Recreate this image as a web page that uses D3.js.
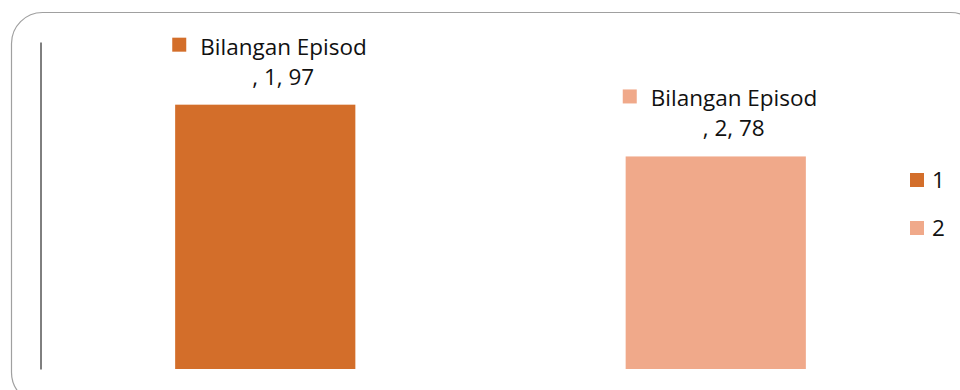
<!DOCTYPE html>
<html>
<head>
<meta charset="utf-8">
<script src="https://cdn.jsdelivr.net/npm/d3@7/dist/d3.min.js"></script>
<style>
  html, body { margin: 0; padding: 0; background: #fff; }
  svg { display: block; font-family: "Open Sans", "Liberation Sans", sans-serif; }
</style>
</head>
<body>
<svg id="chart" width="960" height="390"></svg>
<script>
// Episode counts per category
const categories = ["1", "2"];
const values = [97, 78];
const seriesName = "Bilangan Episod";
const colors = ["#d36e2a", "#f0a98a"];

const svg = d3.select("#chart");

// rounded chart frame (runs past the right and bottom edges)
svg.append("rect")
  .attr("x", 11.5).attr("y", 12.5)
  .attr("width", 970).attr("height", 391)
  .attr("rx", 31).attr("ry", 31)
  .attr("fill", "#fff")
  .attr("stroke", "#a0a0a0").attr("stroke-width", 1.2);

const plot = { left: 40, right: 941, top: 42, bottom: 369 };

const x = d3.scaleBand()
  .domain(categories)
  .range([plot.left, plot.right])
  .paddingInner(0.6).paddingOuter(0.3);

const y = d3.scaleLinear()
  .domain([0, 120])
  .range([plot.bottom, plot.top]);

// vertical axis line, no ticks
const yAxis = d3.axisLeft(y).tickValues([]).tickSizeOuter(0);
svg.append("g")
  .attr("transform", `translate(${plot.left + 0.5},0)`)
  .call(yAxis)
  .select(".domain").attr("stroke", "#000");

// bars
svg.append("g").selectAll("rect")
  .data(categories)
  .join("rect")
  .attr("x", d => x(d))
  .attr("width", x.bandwidth())
  .attr("y", (d, i) => y(values[i]))
  .attr("height", (d, i) => y(0) - y(values[i]))
  .attr("fill", (d, i) => colors[i]);

// data labels: swatch + series name, then ", category, value"
const labels = svg.append("g").selectAll("g")
  .data(categories)
  .join("g")
  .attr("transform", (d, i) => `translate(${x(d) + x.bandwidth() / 2},${y(values[i])})`);

labels.append("rect")
  .attr("x", -93).attr("y", -67)
  .attr("width", 14).attr("height", 14)
  .attr("fill", (d, i) => colors[i]);

labels.append("text")
  .attr("x", -65).attr("y", -50)
  .attr("font-size", 22.5)
  .attr("fill", "#111")
  .text(seriesName);

labels.append("text")
  .attr("x", 18).attr("y", -20)
  .attr("text-anchor", "middle")
  .attr("font-size", 22.5)
  .attr("fill", "#111")
  .text((d, i) => `, ${d}, ${values[i]}`);

// legend
const legend = svg.append("g").selectAll("g")
  .data(categories)
  .join("g")
  .attr("transform", (d, i) => `translate(910,${173 + i * 48})`);

legend.append("rect")
  .attr("width", 14).attr("height", 14)
  .attr("fill", (d, i) => colors[i]);

legend.append("text")
  .attr("x", 22).attr("y", 15)
  .attr("font-size", 22.5)
  .attr("fill", "#111")
  .text(d => d);
</script>
</body>
</html>
